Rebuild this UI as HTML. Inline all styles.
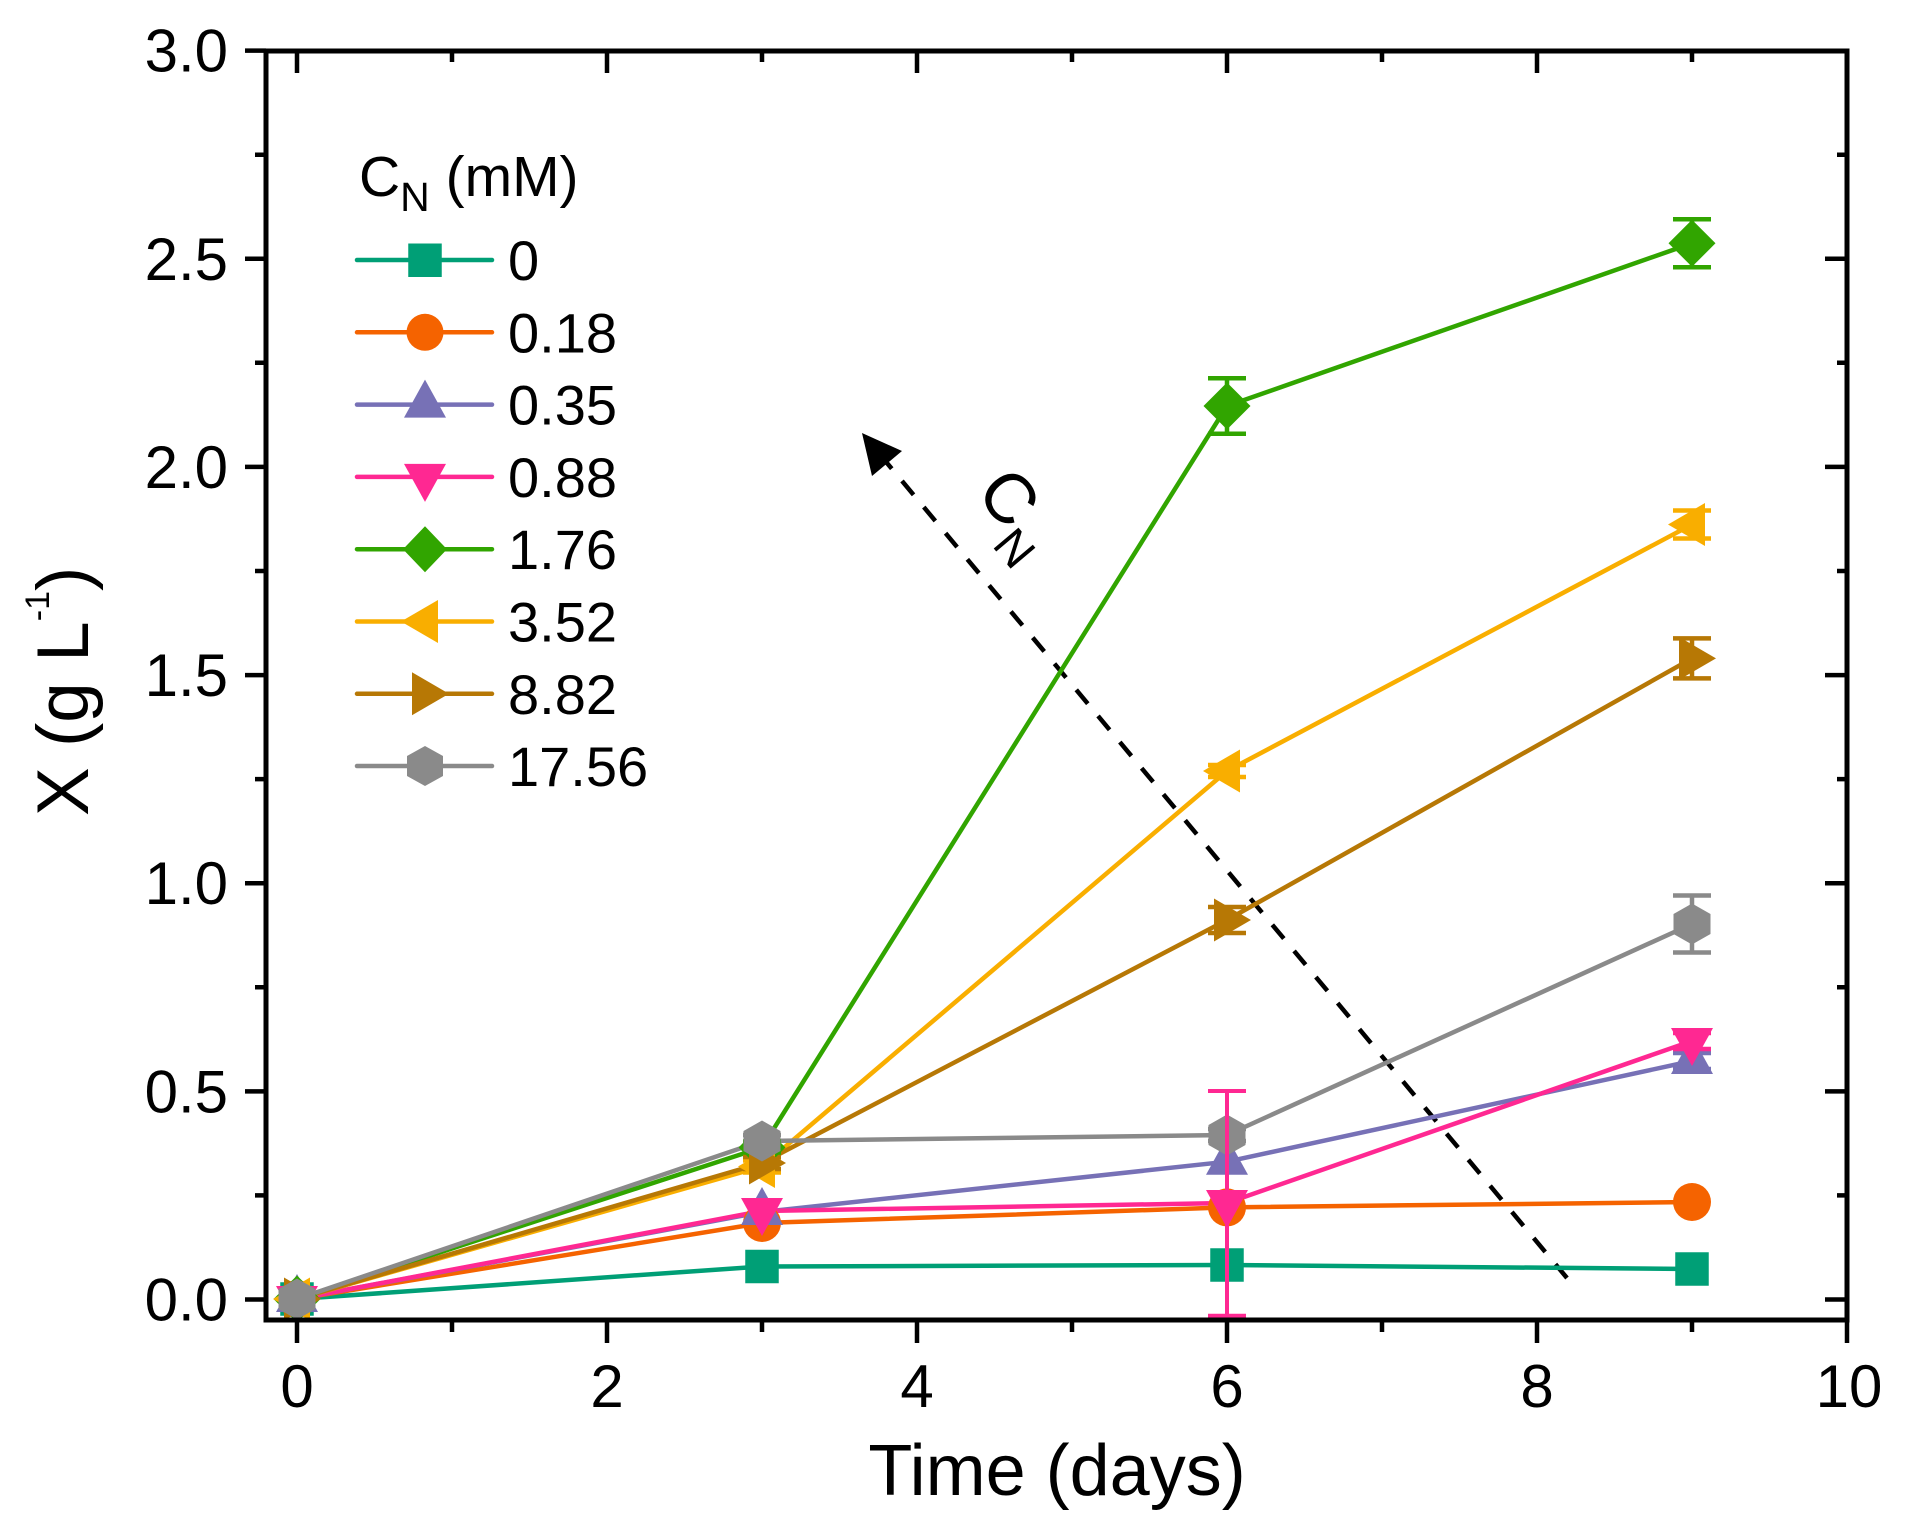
<!DOCTYPE html>
<html><head><meta charset="utf-8"><style>
html,body{margin:0;padding:0;background:#fff}
svg{display:block}
text{font-family:"Liberation Sans",Arial,sans-serif;fill:#000}
</style></head><body>
<svg width="1905" height="1531" viewBox="0 0 1905 1531" xmlns="http://www.w3.org/2000/svg">
<rect width="1905" height="1531" fill="#fff"/>

<!-- dashed arrow -->
<line x1="1567" y1="1278" x2="887" y2="463" stroke="#000" stroke-width="4.5" stroke-dasharray="18 16"/>
<polygon points="862,433 902,451 872,476" fill="#000"/>
<g transform="translate(1010,497) rotate(50)"><text x="-25.5" y="25" font-size="70">C<tspan font-size="47" dy="20.5">N</tspan></text></g>

<!-- series lines -->
<g fill="none" stroke-width="4.5" stroke-linejoin="round">
<polyline stroke="#009F76" points="297,1299 762,1266.5 1227,1265 1692,1269"/>
<polyline stroke="#F56300" points="297,1299 762,1223 1227,1207.4 1692,1202"/>
<polyline stroke="#7771B6" points="297,1299 762,1212 1227,1161.7 1692,1061"/>
<polyline stroke="#FF2892" points="297,1299 762,1211 1227,1203 1692,1041"/>
<polyline stroke="#31A500" points="297,1299 762,1147.5 1227,406 1692,243.3"/>
<polyline stroke="#F9AE00" points="297,1299 762,1166.5 1227,771 1692,524.5"/>
<polyline stroke="#B77805" points="297,1299 762,1163 1227,920 1692,658.4"/>
<polyline stroke="#8A8A8A" points="297,1299 762,1141 1227,1135 1692,924"/>
</g>

<!-- error bars -->
<g fill="none" stroke-width="4.5">
<path stroke="#31A500" d="M762 1141.5V1153.5M743 1141.5H781M743 1153.5H781 M1227 378.3V433.7M1208 378.3H1246M1208 433.7H1246 M1692 219.3V267.3M1673 219.3H1711M1673 267.3H1711"/>
<path stroke="#F9AE00" d="M762 1160.5V1172.5M743 1160.5H781M743 1172.5H781 M1227 765V777M1208 765H1246M1208 777H1246 M1692 510.5V538.5M1673 510.5H1711M1673 538.5H1711"/>
<path stroke="#B77805" d="M762 1157V1169M743 1157H781M743 1169H781 M1227 907V933M1208 907H1246M1208 933H1246 M1692 638.4V678.4M1673 638.4H1711M1673 678.4H1711"/>
<path stroke="#8A8A8A" d="M762 1135V1147M743 1135H781M743 1147H781 M1227 1129V1141M1208 1129H1246M1208 1141H1246 M1692 895.5V952.5M1673 895.5H1711M1673 952.5H1711"/>
<path stroke="#7771B6" d="M1692 1053V1069M1673 1053H1711M1673 1069H1711"/>
<path stroke="#FF2892" d="M1692 1033V1049M1673 1033H1711M1673 1049H1711"/>
</g>

<!-- markers: teal squares -->
<g fill="#009F76">
<rect x="280.25" y="1282.25" width="33.5" height="33.5"/>
<rect x="745.25" y="1249.75" width="33.5" height="33.5"/>
<rect x="1210.25" y="1248.25" width="33.5" height="33.5"/>
<rect x="1675.25" y="1252.25" width="33.5" height="33.5"/>
</g>
<!-- orange circles -->
<g fill="#F56300">
<circle cx="297" cy="1299" r="19"/>
<circle cx="762" cy="1223" r="19"/>
<circle cx="1227" cy="1207.4" r="19"/>
<circle cx="1692" cy="1202" r="19"/>
</g>
<!-- purple up triangles -->
<g fill="#7771B6">
<polygon points="297,1274 318,1312 276,1312"/>
<polygon points="762,1187 783,1225 741,1225"/>
<polygon points="1227,1136.7 1248,1174.7 1206,1174.7"/>
<polygon points="1692,1036 1713,1074 1671,1074"/>
</g>
<!-- pink down triangles -->
<g fill="#FF2892">
<polygon points="297,1324 318,1286 276,1286"/>
<polygon points="762,1236 783,1198 741,1198"/>
<polygon points="1227,1228 1248,1190 1206,1190"/>
<polygon points="1692,1066 1713,1028 1671,1028"/>
</g>
<!-- green diamonds -->
<g fill="#31A500">
<polygon points="297,1275.5 320.5,1299 297,1322.5 273.5,1299"/>
<polygon points="762,1124 785.5,1147.5 762,1171 738.5,1147.5"/>
<polygon points="1227,382.5 1250.5,406 1227,429.5 1203.5,406"/>
<polygon points="1692,219.8 1715.5,243.3 1692,266.8 1668.5,243.3"/>
</g>
<!-- yellow left triangles -->
<g fill="#F9AE00">
<polygon points="273,1299 310,1277.5 310,1320.5"/>
<polygon points="738,1166.5 775,1145 775,1188"/>
<polygon points="1203,771 1240,749.5 1240,792.5"/>
<polygon points="1668,524.5 1705,503 1705,546"/>
</g>
<!-- brown right triangles -->
<g fill="#B77805">
<polygon points="321,1299 284,1277.5 284,1320.5"/>
<polygon points="786,1163 749,1141.5 749,1184.5"/>
<polygon points="1251,920 1214,898.5 1214,941.5"/>
<polygon points="1716,658.4 1679,636.9 1679,679.9"/>
</g>
<!-- gray hexagons -->
<g fill="#8A8A8A">
<polygon points="297,1278.5 315.5,1289 315.5,1309 297,1319.5 278.5,1309 278.5,1289"/>
<polygon points="762,1120.5 780.5,1131 780.5,1151 762,1161.5 743.5,1151 743.5,1131"/>
<polygon points="1227,1114.5 1245.5,1125 1245.5,1145 1227,1155.5 1208.5,1145 1208.5,1125"/>
<polygon points="1692,903.5 1710.5,914 1710.5,934 1692,944.5 1673.5,934 1673.5,914"/>
</g>
<!-- pink big error bar at t=6 (drawn on top) -->
<path fill="none" stroke="#FF2892" stroke-width="4" d="M1227 1091V1315.7M1208 1091H1246M1208 1315.7H1246"/>

<!-- axes frame -->
<rect x="266" y="51" width="1581" height="1269" fill="none" stroke="#000" stroke-width="5"/>
<g stroke="#000" stroke-width="4.5" fill="none">
<!-- left major (outward) -->
<path d="M245 1299.5H266M245 1091.4H266M245 883.2H266M245 675.1H266M245 466.9H266M245 258.8H266M245 50.6H266"/>
<!-- left minor -->
<path d="M255 1195.4H266M255 987.3H266M255 779.1H266M255 571H266M255 362.8H266M255 154.7H266"/>
<!-- right major (inward) -->
<path d="M1825 1299.5H1847M1825 1091.4H1847M1825 883.2H1847M1825 675.1H1847M1825 466.9H1847M1825 258.8H1847"/>
<path d="M1837 1195.4H1847M1837 987.3H1847M1837 779.1H1847M1837 571H1847M1837 362.8H1847M1837 154.7H1847"/>
<!-- bottom major (outward) -->
<path d="M297 1320V1343M607 1320V1343M917 1320V1343M1227 1320V1343M1537 1320V1343M1847 1320V1343"/>
<path d="M452 1320V1332M762 1320V1332M1072 1320V1332M1382 1320V1332M1692 1320V1332"/>
<!-- top major (inward) -->
<path d="M297 51V73M607 51V73M917 51V73M1227 51V73M1537 51V73"/>
<path d="M452 51V62M762 51V62M1072 51V62M1382 51V62M1692 51V62"/>
</g>

<!-- y tick labels -->
<g font-size="60" text-anchor="end">
<text x="228" y="1320.5">0.0</text>
<text x="228" y="1112.4">0.5</text>
<text x="228" y="904.2">1.0</text>
<text x="228" y="696.1">1.5</text>
<text x="228" y="487.9">2.0</text>
<text x="228" y="279.8">2.5</text>
<text x="228" y="71.6">3.0</text>
</g>
<!-- x tick labels -->
<g font-size="60" text-anchor="middle">
<text x="297" y="1407">0</text>
<text x="607" y="1407">2</text>
<text x="917" y="1407">4</text>
<text x="1227" y="1407">6</text>
<text x="1537" y="1407">8</text>
<text x="1849" y="1407">10</text>
</g>

<!-- axis titles -->
<text x="1057" y="1495" font-size="72" text-anchor="middle">Time (days)</text>
<text transform="translate(88,816) rotate(-90)" font-size="73">X (g L<tspan font-size="34" dy="-39">-1</tspan><tspan dy="39">)</tspan></text>

<!-- legend -->
<text x="359" y="196" font-size="57">C<tspan font-size="41" dy="15">N</tspan><tspan dy="-15"> (mM)</tspan></text>
<g stroke-width="4.5" stroke-linecap="round" fill="none">
<line x1="357" y1="260" x2="492" y2="260" stroke="#009F76"/>
<line x1="357" y1="332.3" x2="492" y2="332.3" stroke="#F56300"/>
<line x1="357" y1="404.6" x2="492" y2="404.6" stroke="#7771B6"/>
<line x1="357" y1="476.9" x2="492" y2="476.9" stroke="#FF2892"/>
<line x1="357" y1="549.2" x2="492" y2="549.2" stroke="#31A500"/>
<line x1="357" y1="621.5" x2="492" y2="621.5" stroke="#F9AE00"/>
<line x1="357" y1="693.8" x2="492" y2="693.8" stroke="#B77805"/>
<line x1="357" y1="766" x2="492" y2="766" stroke="#8A8A8A"/>
</g>
<rect x="408.25" y="243.5" width="33.5" height="33.5" fill="#009F76"/>
<circle cx="425" cy="332.3" r="18.5" fill="#F56300"/>
<polygon points="425,379.6 446,417.6 404,417.6" fill="#7771B6"/>
<polygon points="425,501.9 446,463.9 404,463.9" fill="#FF2892"/>
<polygon points="425,526.2 447,549.2 425,572.2 403,549.2" fill="#31A500"/>
<polygon points="401,621.5 438,600 438,643" fill="#F9AE00"/>
<polygon points="449,693.8 412,672.3 412,715.3" fill="#B77805"/>
<polygon points="425,746 443,756 443,776 425,786 407,776 407,756" fill="#8A8A8A"/>
<g font-size="56">
<text x="508" y="280">0</text>
<text x="508" y="352.3">0.18</text>
<text x="508" y="424.6">0.35</text>
<text x="508" y="496.9">0.88</text>
<text x="508" y="569.2">1.76</text>
<text x="508" y="641.5">3.52</text>
<text x="508" y="713.8">8.82</text>
<text x="508" y="786">17.56</text>
</g>
</svg>
</body></html>
